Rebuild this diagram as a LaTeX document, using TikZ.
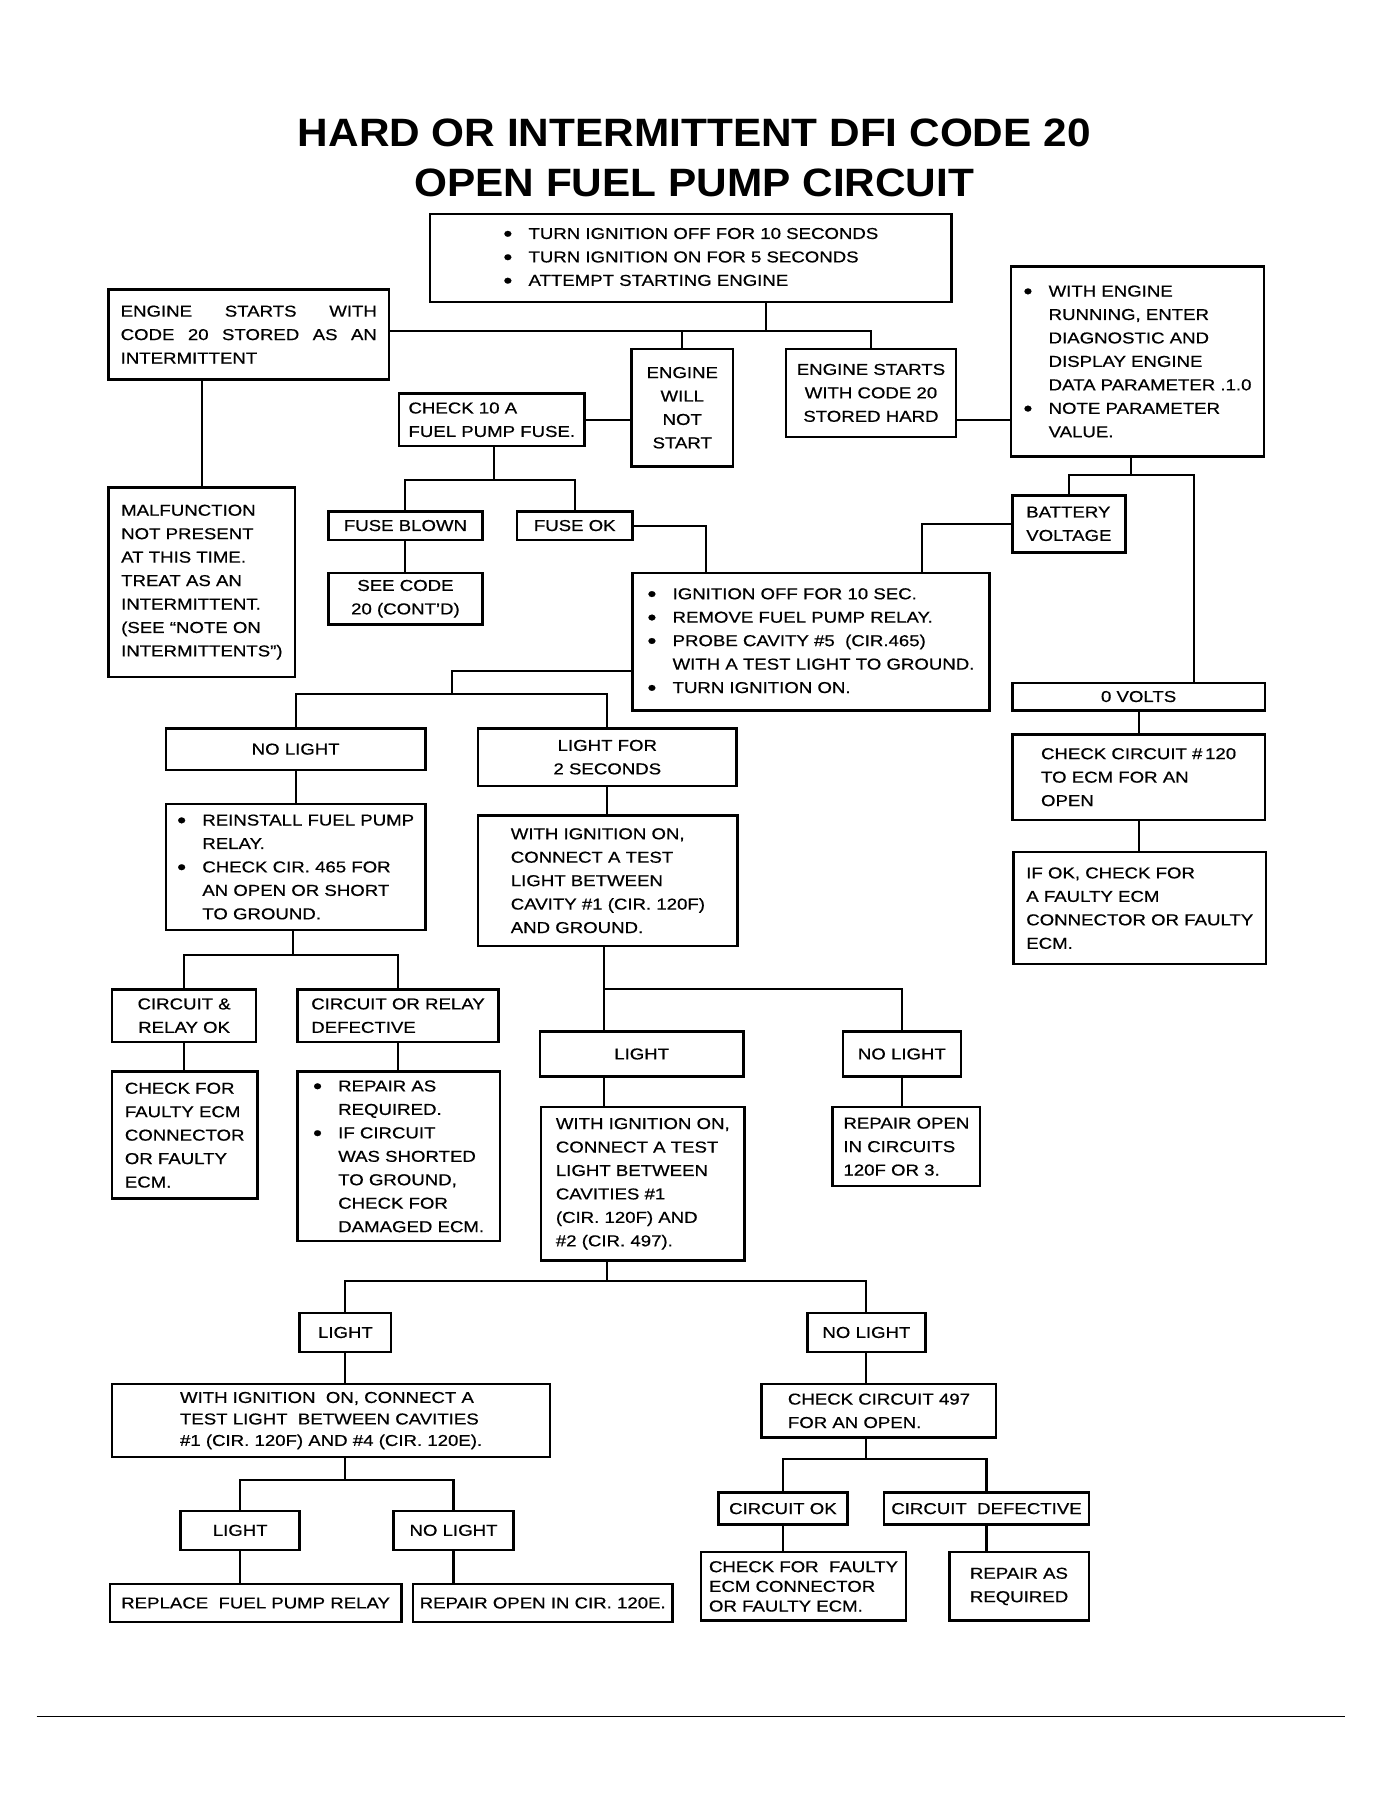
\documentclass[tikz,border=0pt]{standalone}
\usepackage{fontspec}
\setmainfont[FakeStretch=1.18,FakeBold=0.6]{Liberation Sans}
\newfontfamily\titlefont[FakeStretch=1.07]{Liberation Sans}
\newcommand{\bu}{\makebox[11pt][l]{\raisebox{-0.9pt}{\fontsize{9.5}{9.5}\selectfont\textbullet}}}
\newcommand{\ind}{\hspace*{11pt}}
\newcommand{\spreadline}[1]{\makebox[112pt][s]{#1}}
\begin{document}
\begin{tikzpicture}[x=0.5pt,y=-0.5pt,
    box/.style={draw,line width=1.1pt,inner sep=0pt,align=left,font=\fontsize{6.9}{10.25}\selectfont},
    link/.style={line width=0.9pt}]
  \useasboundingbox (0,0) rectangle (1216,1579);
  \node[align=center,inner sep=0pt,font=\titlefont\bfseries\fontsize{17.3}{22}\selectfont] (title) at (607,138)
    {HARD OR INTERMITTENT DFI CODE 20\\OPEN FUEL PUMP CIRCUIT};
  % first checks
  \node[box,minimum width=228pt,minimum height=38.5pt] (top) at (604,225.5)
    {\bu TURN IGNITION OFF FOR 10 SECONDS\\\bu TURN IGNITION ON FOR 5 SECONDS\\\bu ATTEMPT STARTING ENGINE};
  \node[box,minimum width=122.5pt,minimum height=39.5pt] (esint) at (217.5,292.5)
    {\spreadline{ENGINE STARTS WITH}\\\spreadline{CODE 20 STORED AS AN}\\INTERMITTENT};
  \node[box,align=center,minimum width=44.5pt,minimum height=51.5pt] (ewns) at (596.5,356.5)
    {ENGINE\\WILL\\NOT\\START};
  \node[box,align=center,minimum width=74.5pt,minimum height=38.5pt] (esh) at (761.5,343.5)
    {ENGINE STARTS\\WITH CODE 20\\STORED HARD};
  \node[box,minimum width=110.5pt,minimum height=83pt] (wer) at (994.5,316)
    {\bu WITH ENGINE\\\ind RUNNING, ENTER\\\ind DIAGNOSTIC AND\\\ind DISPLAY ENGINE\\\ind DATA PARAMETER .1.0\\\bu NOTE PARAMETER\\\ind VALUE.};
  \node[box,minimum width=81pt,minimum height=23pt] (c10) at (430,367)
    {CHECK 10 A\\FUEL PUMP FUSE.};
  \node[box,minimum width=81.5pt,minimum height=83pt] (mnp) at (176.5,509)
    {MALFUNCTION\\NOT PRESENT\\AT THIS TIME.\\TREAT AS AN\\INTERMITTENT.\\(SEE “NOTE ON\\INTERMITTENTS”)};
  \node[box,minimum width=67.5pt,minimum height=12.5pt] (fb) at (354.5,459.5) {FUSE BLOWN};
  \node[box,minimum width=50.5pt,minimum height=12.5pt] (fok) at (502.5,459.5) {FUSE OK};
  \node[box,align=center,minimum width=67.5pt,minimum height=22.5pt] (see) at (354.5,523.5)
    {SEE CODE\\20 (CONT'D)};
  \node[box,minimum width=156pt,minimum height=60pt] (ign) at (709,561)
    {\bu IGNITION OFF FOR 10 SEC.\\\bu REMOVE FUEL PUMP RELAY.\\\bu PROBE CAVITY \#5~~(CIR.465)\\\ind WITH A TEST LIGHT TO GROUND.\\\bu TURN IGNITION ON.};
  % battery side
  \node[box,minimum width=49.5pt,minimum height=25pt] (bv) at (934.5,458) {BATTERY\\VOLTAGE};
  \node[box,minimum width=110.5pt,minimum height=12pt] (ov) at (995.5,609) {0 VOLTS};
  \node[box,minimum width=110.5pt,minimum height=37.5pt] (cc) at (995.5,679.5)
    {CHECK CIRCUIT \#\,120\\TO ECM FOR AN\\OPEN};
  \node[box,minimum width=110.5pt,minimum height=49pt] (ifok) at (996.5,794)
    {IF OK, CHECK FOR\\A FAULTY ECM\\CONNECTOR OR FAULTY\\ECM.};
  % relay probe results
  \node[box,minimum width=113.5pt,minimum height=18pt] (nl1) at (258.5,655) {NO LIGHT};
  \node[box,align=center,minimum width=113pt,minimum height=25pt] (lf2) at (531,662) {LIGHT FOR\\2 SECONDS};
  \node[box,minimum width=113.5pt,minimum height=55pt] (rein) at (258.5,758)
    {\bu REINSTALL FUEL PUMP\\\ind RELAY.\\\bu CHECK CIR. 465 FOR\\\ind AN OPEN OR SHORT\\\ind TO GROUND.};
  \node[box,align=center,minimum width=63pt,minimum height=23pt] (crok) at (161,888) {CIRCUIT \&\\RELAY OK};
  \node[box,minimum width=88pt,minimum height=23pt] (cord) at (348,888) {CIRCUIT OR RELAY\\DEFECTIVE};
  \node[box,minimum width=63.5pt,minimum height=55.5pt] (cff) at (161.5,992.5)
    {CHECK FOR\\FAULTY ECM\\CONNECTOR\\OR FAULTY\\ECM.};
  \node[box,minimum width=88.5pt,minimum height=74pt] (rep) at (348.5,1011)
    {\bu REPAIR AS\\\ind REQUIRED.\\\bu IF CIRCUIT\\\ind WAS SHORTED\\\ind TO GROUND,\\\ind CHECK FOR\\\ind DAMAGED ECM.};
  \node[box,minimum width=113.5pt,minimum height=57pt] (wit1) at (531.5,770)
    {WITH IGNITION ON,\\CONNECT A TEST\\LIGHT BETWEEN\\CAVITY \#1 (CIR. 120F)\\AND GROUND.};
  \node[box,minimum width=89pt,minimum height=19.5pt] (light2) at (561,921.5) {LIGHT};
  \node[box,minimum width=51.5pt,minimum height=19.5pt] (nolight2) at (788.5,921.5) {NO LIGHT};
  \node[box,minimum width=89pt,minimum height=67pt] (wit2) at (562,1035)
    {WITH IGNITION ON,\\CONNECT A TEST\\LIGHT BETWEEN\\CAVITIES \#1\\(CIR. 120F) AND\\\#2 (CIR. 497).};
  \node[box,minimum width=64.5pt,minimum height=34.5pt] (ro) at (792.5,1002.5)
    {REPAIR OPEN\\IN CIRCUITS\\120F OR 3.};
  % cavity tests
  \node[box,minimum width=40pt,minimum height=17pt] (light3) at (302,1165) {LIGHT};
  \node[box,minimum width=51.5pt,minimum height=17pt] (nolight3) at (757.5,1165) {NO LIGHT};
  \node[box,minimum width=191.5pt,minimum height=32pt,font=\fontsize{6.9}{9.4}\selectfont] (wit3) at (289.5,1242)
    {WITH IGNITION~~ON, CONNECT A\\TEST LIGHT~~BETWEEN CAVITIES\\\#1 (CIR. 120F) AND \#4 (CIR. 120E).};
  \node[box,minimum width=102.5pt,minimum height=23.5pt] (cc497) at (768.5,1233.5)
    {CHECK CIRCUIT 497\\FOR AN OPEN.};
  \node[box,minimum width=52pt,minimum height=17pt] (light4) at (210,1338) {LIGHT};
  \node[box,minimum width=52.5pt,minimum height=17pt] (nolight4) at (396.5,1338) {NO LIGHT};
  \node[box,minimum width=127.5pt,minimum height=16.5pt] (rfpr) at (223.5,1401.5) {REPLACE~~FUEL PUMP RELAY};
  \node[box,minimum width=113.5pt,minimum height=16.5pt] (roc) at (474.5,1401.5) {REPAIR OPEN IN CIR. 120E.};
  \node[box,minimum width=56.5pt,minimum height=14pt] (cok) at (684.5,1319) {CIRCUIT OK};
  \node[box,minimum width=89.5pt,minimum height=14pt] (cdef) at (862.5,1319) {CIRCUIT~~DEFECTIVE};
  \node[box,minimum width=89.5pt,minimum height=30pt,font=\fontsize{6.9}{8.6}\selectfont] (cff2) at (702.5,1387)
    {CHECK FOR~~FAULTY\\ECM CONNECTOR\\OR FAULTY ECM.};
  \node[box,minimum width=61pt,minimum height=30pt] (rar) at (891,1387) {REPAIR AS\\REQUIRED};
  % junctions
  \coordinate (j1) at (670,289);
  \coordinate (j2) at (432,420);
  \coordinate (j3) at (989,415);
  \coordinate (j3r) at (1044,415);
  \coordinate (j4) at (395,607);
  \coordinate (j5) at (256,835);
  \coordinate (j6) at (528,865);
  \coordinate (j7) at (531,1120);
  \coordinate (j8) at (302,1294);
  \coordinate (j9) at (757,1276);
  % connectors
  \draw[link] (top.south -| j1) -- (j1);
  \draw[link] (esint.east |- j1) -| (esh.north);
  \draw[link] (ewns.north) -- (ewns.north |- j1);
  \draw[link] (c10.east) -- (ewns.west |- c10.east);
  \draw[link] (esh.east |- c10.east) -- (wer.west |- c10.east);
  \draw[link] (esint.south -| mnp.north) -- (mnp.north);
  \draw[link] (c10.south -| j2) -- (j2);
  \draw[link] (fb.north) |- (j2) -| (fok.north);
  \draw[link] (fb.south) -- (see.north);
  \draw[link] (fok.east) -| ([xshift=-46pt]ign.north);
  \draw[link] (wer.south -| j3) -- (j3);
  \draw[link] (bv.north) |- (j3r) -- (j3r |- ov.north);
  \draw[link] (bv.west) -| ([xshift=48.5pt]ign.north);
  \draw[link] (ov.south) -- (cc.north);
  \draw[link] (cc.south) -- (ifok.north -| cc.south);
  \draw[link] ([yshift=-13pt]ign.west) -| (j4);
  \draw[link] (nl1.north) |- (j4) -| (lf2.north);
  \draw[link] (nl1.south) -- (rein.north);
  \draw[link] (rein.south -| j5) -- (j5);
  \draw[link] (crok.north) |- (j5) -| (cord.north);
  \draw[link] (crok.south) -- (cff.north -| crok.south);
  \draw[link] (cord.south) -- (rep.north -| cord.south);
  \draw[link] (lf2.south) -- (wit1.north -| lf2.south);
  \draw[link] (wit1.south -| j6) -- (light2.north -| j6);
  \draw[link] (j6) -| (nolight2.north);
  \draw[link] (light2.south -| j6) -- (wit2.north -| j6);
  \draw[link] (nolight2.south) -- (ro.north -| nolight2.south);
  \draw[link] (wit2.south -| j7) -- (j7);
  \draw[link] (light3.north) |- (j7) -| (nolight3.north);
  \draw[link] (light3.south) -- (wit3.north -| light3.south);
  \draw[link] (nolight3.south) -- (cc497.north -| nolight3.south);
  \draw[link] (wit3.south -| j8) -- (j8);
  \draw[link] (light4.north) |- (j8) -| (nolight4.north);
  \draw[link] (light4.south) -- (rfpr.north -| light4.south);
  \draw[link] (nolight4.south) -- (roc.north -| nolight4.south);
  \draw[link] (cc497.south -| j9) -- (j9);
  \draw[link] (cok.north) |- (j9) -| (cdef.north);
  \draw[link] (cok.south) -- (cff2.north -| cok.south);
  \draw[link] (cdef.south) -- (rar.north -| cdef.south);
  \draw[line width=0.6pt] (32,1501) -- (1176,1501);
\end{tikzpicture}
\end{document}
